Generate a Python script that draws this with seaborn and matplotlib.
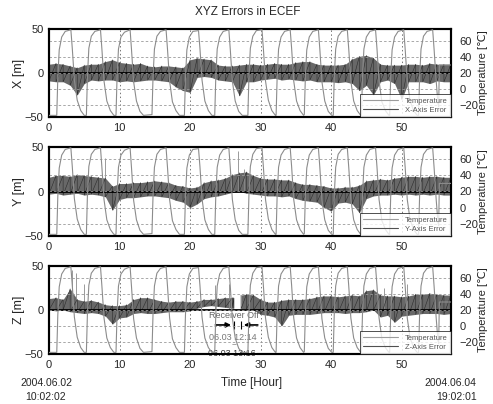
import numpy as np
import pandas as pd
import matplotlib
matplotlib.use("Agg")
import matplotlib.pyplot as plt
import seaborn as sns
from matplotlib.lines import Line2D

# ---------------- data ----------------
hours = list(range(58))

temp_time = [0,
    1.1, 1.25, 1.45, 1.8, 2.3, 3.1, 3.3, 3.6, 4.0, 4.5, 5.0,
    5.3, 5.45, 5.65, 6.0, 6.5, 7.3, 7.5, 7.8, 8.2, 8.7, 9.2,
    9.5, 9.65, 9.85, 10.2, 10.7, 11.5, 11.7, 12.0, 12.4, 12.9, 13.4,
    14.6, 14.75, 14.95, 15.3, 15.8, 16.6, 16.8, 17.1, 17.5, 18.0, 18.5,
    19.2, 19.35, 19.55, 19.9, 20.4, 21.2, 21.4, 21.7, 22.1, 22.6, 23.1,
    23.5, 23.65, 23.85, 24.2, 24.7, 25.5, 25.7, 26.0, 26.4, 26.9, 27.4,
    28.2, 28.35, 28.55, 28.9, 29.4, 30.2, 30.4, 30.7, 31.1, 31.6, 32.1,
    32.2, 32.35, 32.55, 32.9, 33.4, 34.2, 34.4, 34.7, 35.1, 35.6, 36.1,
    36.2, 36.35, 36.55, 36.9, 37.4, 38.2, 38.4, 38.7, 39.1, 39.6, 40.1,
    40.3, 40.45, 40.65, 41.0, 41.5, 42.3, 42.5, 42.8, 43.2, 43.7, 44.2,
    44.3, 44.45, 44.65, 45.0, 45.5, 46.3, 46.5, 46.8, 47.2, 47.7, 48.2,
    48.3, 48.45, 48.65, 49.0, 49.5, 50.3, 50.5, 50.8, 51.2, 51.7, 52.2,
    52.4, 52.55, 52.75, 53.1, 53.6, 54.4, 54.6, 54.9, 55.15, 55.25, 55.35, 57.0]
temp_value = [-33,
    -33, 14, 49, 65, 72, 74, 51, 11, -14, -27, -33,
    -33, 16, 51, 66, 72, 74, 50, 10, -15, -27, -33,
    -33, 15, 50, 65, 71, 74, 49, 9, -15, -28, -33,
    -32, 15, 50, 66, 72, 74, 50, 10, -16, -27, -33,
    -33, 14, 49, 65, 72, 73, 51, 11, -15, -27, -33,
    -33, 15, 50, 65, 72, 74, 50, 10, -15, -28, -33,
    -33, 16, 51, 66, 73, 74, 50, 10, -14, -27, -33,
    -33, 15, 50, 65, 72, 74, 51, 10, -15, -27, -33,
    -32, 15, 49, 65, 72, 74, 50, 9, -15, -28, -33,
    -33, 16, 50, 66, 72, 74, 50, 10, -15, -27, -33,
    -33, 15, 50, 65, 72, 74, 51, 10, -16, -27, -33,
    -33, 14, 49, 65, 72, 74, 50, 10, -15, -27, -33,
    -33, 15, 50, 66, 72, 74, 50, 10, -18, -22, 30, 30]

x_err_hi = [10, 11, 10, 8, 6, 9, 10, 10, 13, 15, 12, 11, 10, 11, 8, 7, 8, 8, 7, 6,
            15, 17, 16, 15, 9, 8, 8, 9, 10, 10, 9, 10, 11, 10, 10, 12, 13, 13, 10, 9,
            9, 9, 10, 16, 19, 20, 17, 10, 9, 9, 9, 10, 10, 9, 11, 10, 10, 10]
x_err_lo = [-9, -10, -10, -14, -25, -12, -8, -9, -8, -8, -10, -9, -10, -9, -8, -8, -9, -10, -16, -20,
            -22, -5, -4, -5, -8, -9, -10, -26, -10, -10, -8, -7, -6, -8, -7, -8, -9, -8, -10, -10,
            -10, -11, -10, -12, -20, -14, -25, -10, -8, -12, -30, -10, -10, -10, -12, -9, -10, -10]

y_err_hi = [16, 18, 18, 17, 19, 18, 17, 16, 15, 6, 9, 9, 10, 10, 11, 12, 11, 10, 7, 6,
            4, 5, 10, 12, 13, 15, 19, 21, 22, 18, 15, 14, 14, 13, 13, 10, 8, 8, 7, 6,
            4, 4, 5, 5, 7, 12, 13, 14, 13, 15, 16, 17, 17, 16, 17, 17, 16, 16]
y_err_lo = [-3, -2, -4, -3, -2, -4, -3, -4, -6, -21, -9, -7, -7, -6, -5, -5, -6, -7, -10, -12,
            -18, -14, -8, -6, -5, -3, -1, 0, -2, -3, -4, -5, -5, -6, -5, -8, -10, -11, -12, -18,
            -22, -13, -12, -14, -24, -8, -5, -4, -4, -3, -4, -3, -4, -3, -4, -3, -4, -4]
y_spike_t = [8.0, 26.8, 27.6]
y_spike_v = [38, 45, 25]

off_start, off_end = 26.2, 27.23          # receiver off 06.03 12:14 - 13:16
z_time = list(range(27)) + [26.2, 27.23] + list(range(28, 58))
z_err_hi = [13, 14, 12, 24, 12, 10, 11, 9, 6, 5, 5, 6, 12, 14, 14, 12, 10, 9, 10, 10,
            9, 10, 12, 12, 13, 14, 14, 14, 17, 18, 17, 12, 9, 9, 11, 12, 12, 12, 13, 15,
            16, 16, 15, 16, 17, 16, 22, 23, 17, 16, 16, 15, 16, 18, 18, 19, 18, 17, 17]
z_err_lo = [0, -1, 0, -2, -3, -4, -3, -4, -7, -16, -9, -8, -4, -3, -4, -4, -3, -2, -2, -2,
            -1, 2, 4, 5, 4, 3, 2, 2, 1, 1, 0, -5, -6, -8, -18, -6, -5, -5, -5, -4,
            -3, -3, -3, -4, -3, -3, -2, 0, -8, -6, -14, -7, -6, -5, -4, -4, -4, -5, -4]
z_spike_t = [3.2, 3.8, 5.0, 23.5, 25.5, 47.5, 50.8]
z_spike_v = [45, 42, 30, 28, 30, 25, 30]

panel_names = ["X", "Y", "Z"]
x_ticks = [0, 10, 20, 30, 40, 50]
err_ticks = [-50, 0, 50]
temp_ticks = [-20, 0, 20, 40, 60]

# ---------------- style ----------------
sns.set_style("white")
plt.rcParams['font.family'] = ['Liberation Sans', 'DejaVu Sans']

fig = plt.figure(figsize=(4.93, 4.04), dpi=100)
W, H = 493, 404
boxes = [(29, 117), (147, 236), (266, 354)]
L, R = 49, 451

temp_df = pd.DataFrame({"t": temp_time, "temp": temp_value})
TEMP_C = "#8c8c8c"
ERR_C = "#2c2c2c"
BAND_C = "#686868"

panels = [
    (hours, x_err_hi, x_err_lo, [], []),
    (hours, y_err_hi, y_err_lo, y_spike_t, y_spike_v),
    (z_time, z_err_hi, z_err_lo, z_spike_t, z_spike_v),
]

for i, ((tt, hi, lo, st, sv), (top, bot)) in enumerate(zip(panels, boxes)):
    ax = fig.add_axes([L / W, 1 - bot / H, (R - L) / W, (bot - top) / H])
    ax2 = ax.twinx()
    tt = np.asarray(tt, float)
    hi = np.asarray(hi, float)
    lo = np.asarray(lo, float)
    if i == 2:
        segs = [tt <= off_start, tt >= off_end]
    else:
        segs = [np.ones_like(tt, bool)]
    for m in segs:
        ax.fill_between(tt[m], lo[m], hi[m], color=BAND_C, lw=0, zorder=2)
        zt = np.column_stack((tt[m], tt[m])).ravel()
        zv = np.column_stack((hi[m], lo[m])).ravel()
        sns.lineplot(x=zt, y=zv, ax=ax, color=ERR_C, lw=0.4, sort=False,
                     estimator=None, zorder=3)
    if st:
        ax.vlines(st, 0, sv, color="#8a8a8a", lw=0.6, zorder=2)
    ax.axhline(0, color="black", lw=1.3, zorder=4)

    sns.lineplot(data=temp_df, x="t", y="temp", ax=ax2, color=TEMP_C, lw=0.8,
                 sort=False, estimator=None, zorder=3)

    ax.set_xlim(0, 57)
    ax.set_ylim(-50, 50)
    ax2.set_ylim(-35, 75)
    ax.set_xticks(x_ticks)
    ax.set_yticks(err_ticks)
    ax2.set_yticks(temp_ticks)
    ax.set_xlabel("")
    ax.set_ylabel("")
    ax2.set_ylabel("")
    ax.xaxis.grid(True, ls=(0, (1.5, 2.5)), color="#777777", lw=0.7)
    ax.yaxis.grid(False)
    ax2.yaxis.grid(True, ls=(0, (3, 2.5)), color="#9a9a9a", lw=0.6)
    ax2.xaxis.grid(False)
    ax.tick_params(axis="both", labelsize=8, length=0, pad=4)
    ax2.tick_params(axis="y", labelsize=8, length=0, pad=6)
    for a in (ax, ax2):
        for s in a.spines.values():
            s.set_color("black")
            s.set_linewidth(1.5)

    handles = [Line2D([], [], color="#9c9c9c", lw=0.8),
               Line2D([], [], color="#505050", lw=0.8)]
    leg = ax2.legend(handles, ["Temperature", f"{panel_names[i]}-Axis Error"],
                     loc="lower right", fontsize=5.5, frameon=True, fancybox=False,
                     borderaxespad=0.0, handlelength=4.5, labelspacing=0.25,
                     borderpad=0.4, handletextpad=1.0)
    leg.get_frame().set_edgecolor("black")
    leg.get_frame().set_linewidth(0.6)
    for tx in leg.get_texts():
        tx.set_color("#555555")

    yc = 1 - (top + bot) / 2 / H
    fig.text(19 / W, yc, f"{panel_names[i]} [m]", rotation=90, ha="center",
             va="center", fontsize=9)
    fig.text(483 / W, yc, "Temperature [℃]", rotation=90, ha="center",
             va="center", fontsize=8)

    if i == 2:
        ax.text(off_start, -6, "Receiver Off", ha="center", va="center",
                fontsize=6.5, color="#666666", zorder=6)
        ax.annotate("", xy=(off_start, -17), xytext=(23.2, -17),
                    arrowprops=dict(arrowstyle="-|>", color="black", lw=1.2,
                                    mutation_scale=7), zorder=6)
        ax.annotate("", xy=(off_end, -17), xytext=(30.0, -17),
                    arrowprops=dict(arrowstyle="-|>", color="black", lw=1.2,
                                    mutation_scale=7), zorder=6)
        ax.vlines([off_start, off_end], -22, -12, color="black", lw=0.8, zorder=6)
        ax.text(26.0, -31.5, "06.03 12:14", ha="center", va="center",
                fontsize=6.5, color="#777777", zorder=6)
        ax.text(26.2, -41, "~", ha="center", va="center", fontsize=6,
                color="#555555", zorder=6)
        ax.text(26.0, -49.5, "06.03 13:16", ha="center", va="center",
                fontsize=6.5, color="#333333", zorder=6,
                bbox=dict(facecolor="white", edgecolor="none", pad=0.5))

fig.text(248 / W, 1 - 12 / H, "XYZ Errors in ECEF", ha="center", va="center",
         fontsize=8.5)
fig.text(252 / W, 1 - 383 / H, "Time [Hour]", ha="center", va="center", fontsize=8.5)
fig.text(46 / W, 1 - 383 / H, "2004.06.02", ha="center", va="center", fontsize=7.5)
fig.text(46 / W, 1 - 397 / H, "10:02:02", ha="center", va="center", fontsize=7.5)
fig.text(450 / W, 1 - 383 / H, "2004.06.04", ha="center", va="center", fontsize=7.5)
fig.text(457 / W, 1 - 397 / H, "19:02:01", ha="center", va="center", fontsize=7.5)

fig.savefig("out.png", dpi=100, facecolor="white")
